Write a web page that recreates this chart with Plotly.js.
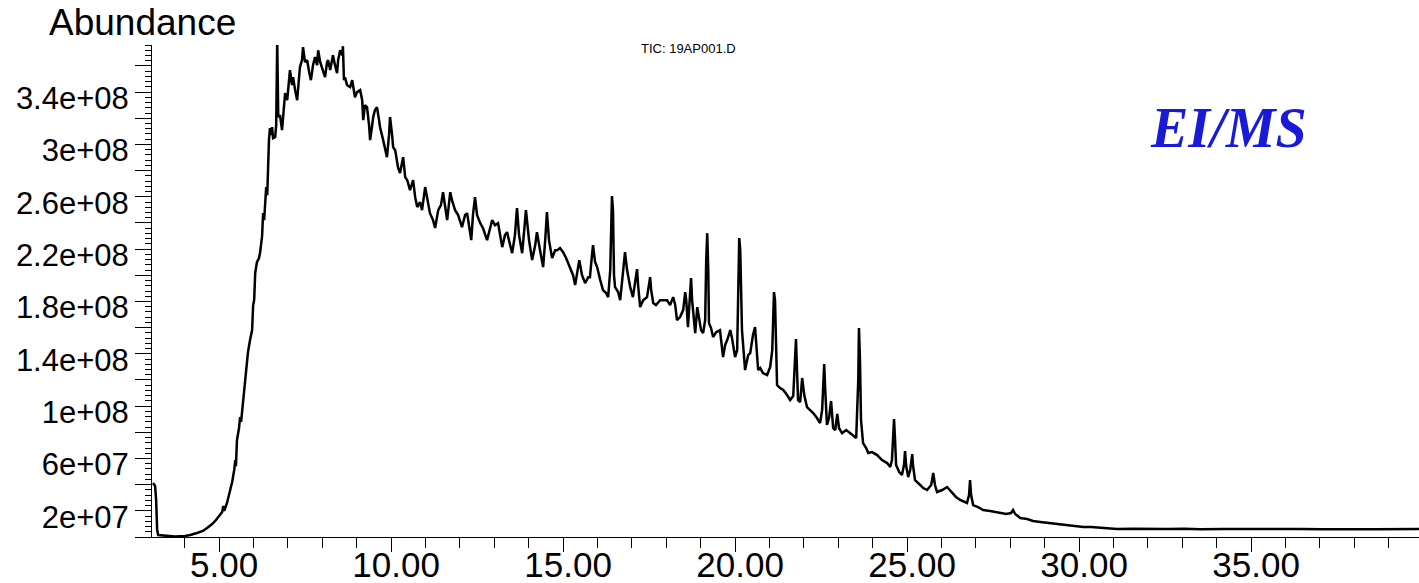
<!DOCTYPE html>
<html>
<head>
<meta charset="utf-8">
<script src="https://cdn.plot.ly/plotly-3.0.1.min.js"></script>
<style>html,body{margin:0;padding:0;background:#fff;}#chart{width:1419px;height:583px;}</style>
</head>
<body>
<div id="chart"></div>
<script>
// Retention time (min)
var retentionTime = [
3.08,3.14,3.17,3.20,3.23,3.43,3.72,4.01,4.16,4.36,4.53,4.65,4.80,4.91,5.03,5.09,5.12,5.15,5.23,5.32,
5.38,5.44,5.47,5.49,5.52,5.58,5.61,5.64,5.73,5.81,5.84,5.90,5.96,5.99,6.02,6.05,6.10,6.16,6.19,6.25,
6.28,6.31,6.37,6.40,6.42,6.45,6.48,6.51,6.54,6.57,6.63,6.66,6.69,6.72,6.77,6.83,6.89,6.92,6.98,7.01,
7.06,7.12,7.15,7.21,7.27,7.33,7.35,7.41,7.44,7.50,7.56,7.62,7.67,7.73,7.79,7.85,7.88,7.94,7.99,8.05,
8.08,8.14,8.17,8.23,8.31,8.37,8.43,8.46,8.52,8.58,8.60,8.63,8.66,8.72,8.81,8.87,8.95,9.01,9.10,9.16,
9.19,9.24,9.30,9.36,9.39,9.45,9.48,9.53,9.59,9.65,9.68,9.77,9.83,9.88,9.94,9.97,10.03,10.06,10.12,10.20,
10.26,10.35,10.41,10.47,10.55,10.64,10.70,10.76,10.84,10.90,10.99,11.08,11.13,11.22,11.28,11.37,11.45,11.51,11.57,11.63,
11.72,11.77,11.86,11.95,12.06,12.15,12.21,12.27,12.33,12.38,12.44,12.50,12.59,12.67,12.79,12.88,12.94,13.02,13.11,13.17,
13.23,13.31,13.37,13.46,13.52,13.60,13.66,13.72,13.81,13.87,13.92,14.01,14.10,14.19,14.24,14.33,14.42,14.48,14.53,14.59,
14.68,14.77,14.83,14.91,15.00,15.09,15.20,15.29,15.35,15.41,15.47,15.55,15.64,15.73,15.78,15.84,15.87,15.93,15.99,16.08,
16.16,16.25,16.31,16.37,16.42,16.45,16.48,16.51,16.60,16.66,16.72,16.80,16.86,16.95,17.03,17.09,17.15,17.18,17.24,17.33,
17.44,17.53,17.56,17.62,17.70,17.82,17.91,18.02,18.11,18.20,18.26,18.31,18.40,18.49,18.55,18.58,18.63,18.69,18.72,18.75,
18.84,18.90,18.95,19.01,19.07,19.13,19.16,19.19,19.22,19.24,19.30,19.36,19.45,19.56,19.65,19.71,19.77,19.86,19.91,20.00,
20.06,20.09,20.12,20.15,20.17,20.20,20.29,20.38,20.44,20.52,20.58,20.61,20.67,20.73,20.81,20.93,21.02,21.08,21.10,21.13,
21.16,21.19,21.22,21.31,21.40,21.51,21.60,21.69,21.74,21.77,21.80,21.83,21.89,21.95,22.01,22.09,22.18,22.27,22.38,22.47,
22.53,22.56,22.59,22.62,22.67,22.73,22.79,22.85,22.91,22.97,23.02,23.11,23.23,23.34,23.43,23.52,23.58,23.60,23.63,23.66,
23.72,23.81,23.87,23.98,24.13,24.27,24.42,24.51,24.56,24.59,24.62,24.65,24.68,24.77,24.85,24.91,24.94,24.97,25.03,25.09,
25.15,25.17,25.23,25.35,25.47,25.58,25.70,25.76,25.81,25.87,26.02,26.16,26.31,26.42,26.54,26.66,26.74,26.80,26.83,26.86,
26.92,27.06,27.21,27.41,27.56,27.70,27.88,28.02,28.08,28.14,28.29,28.49,28.66,28.87,29.16,29.45,29.65,29.88,30.12,30.35,
30.61,31.10,31.57,32.10,32.56,33.05,33.52,34.20,34.97,35.60,36.42,37.10,37.88,38.60,39.88
];
// Abundance (millions of counts)
var abundanceM = [
41.3,39.0,28.3,5.3,1.5,0.8,0.3,0.8,1.5,3.1,4.6,6.9,9.9,13.0,17.6,19.1,23.7,19.9,26.0,35.9,
42.0,51.2,58.8,54.2,74.1,83.3,91.7,87.9,112.3,135.2,141.3,150.5,158.1,177.2,181.1,201.7,210.1,213.1,217.0,229.9,
247.5,242.2,267.4,261.3,288.0,303.3,312.5,307.1,313.2,304.8,305.6,314.7,380.0,320.9,322.4,311.0,330.0,339.2,333.8,341.5,
356.8,345.3,351.4,341.5,333.8,352.9,359.1,364.4,374.3,362.9,364.4,355.2,349.1,360.6,366.7,360.6,372.0,362.9,359.1,355.2,
351.4,362.9,364.4,356.8,368.2,360.6,354.5,364.4,372.0,368.2,375.1,349.1,351.4,345.3,343.8,349.1,336.1,340.0,341.5,333.8,
318.6,330.0,328.5,314.7,303.3,314.7,320.9,326.2,328.5,318.6,313.2,303.3,295.6,290.3,307.1,320.9,307.1,297.9,295.6,282.7,
278.1,290.3,275.0,272.7,265.1,272.7,259.7,252.1,255.9,249.8,267.4,253.6,247.5,242.2,236.1,249.8,253.6,263.5,251.3,242.2,
263.5,257.4,249.8,246.0,236.8,246.0,247.5,238.3,226.9,246.0,259.7,246.0,239.9,236.1,226.9,236.1,242.2,238.3,239.9,230.7,
221.5,230.7,233.0,223.1,216.9,230.7,251.3,230.7,216.9,234.5,249.8,226.9,211.6,223.1,233.0,219.2,206.3,226.9,248.3,226.9,
213.1,219.2,219.2,220.8,217.7,213.1,206.3,200.1,192.5,204.0,211.6,200.1,194.0,198.6,198.6,215.4,223.1,210.1,206.3,196.3,
188.7,186.4,183.3,204.0,260.5,249.8,200.1,191.0,187.2,181.0,196.3,217.7,204.0,191.0,183.3,192.5,204.7,192.5,175.7,181.0,
183.3,198.6,188.7,178.8,177.2,181.0,181.0,181.0,177.2,183.3,177.2,165.8,168.1,173.4,187.2,181.0,160.4,184.9,197.8,181.0,
155.8,175.7,165.8,158.1,155.8,165.8,211.6,232.2,204.0,163.5,159.7,152.8,156.6,158.1,137.5,146.7,150.5,158.1,152.0,137.5,
142.8,188.7,228.4,219.2,181.0,158.1,127.6,139.0,140.6,154.3,160.4,146.7,127.6,129.1,125.3,123.8,129.9,142.8,173.4,187.2,
181.0,142.8,116.1,113.8,112.3,108.5,104.7,107.7,135.2,151.3,127.6,104.7,103.1,121.5,108.5,99.3,97.0,94.7,90.9,87.1,
97.0,119.9,132.2,112.3,85.6,90.9,103.9,83.3,81.7,94.0,83.3,79.4,81.7,79.4,77.2,75.6,119.9,159.7,135.2,89.4,
71.8,68.0,64.2,64.9,62.6,58.8,56.5,53.5,58.8,81.7,90.1,74.1,55.0,49.7,47.4,55.0,65.7,55.0,45.8,51.2,
63.4,55.0,43.5,40.5,37.4,35.9,39.7,48.9,39.7,34.4,35.9,38.2,33.6,30.6,28.3,26.7,26.0,32.1,43.5,32.1,
24.4,22.9,20.6,19.9,19.1,18.3,17.6,18.3,20.6,17.6,14.5,13.7,12.2,11.5,10.7,9.9,9.2,8.4,7.6,7.6,
6.9,6.1,6.3,5.9,6.1,6.4,5.9,6.1,6.3,5.9,6.2,6.0,6.3,6.0,6.1
];
var yTickVals = [0,2e7,4e7,6e7,8e7,1e8,1.2e8,1.4e8,1.6e8,1.8e8,2e8,2.2e8,2.4e8,2.6e8,2.8e8,3e8,3.2e8,3.4e8,3.6e8];
var yTickText = ["","2e+07","","6e+07","","1e+08","","1.4e+08","","1.8e+08","","2.2e+08","","2.6e+08","","3e+08","","3.4e+08",""];
var yAxisLabel = "Abundance";
var traceLabel = "TIC: 19AP001.D";
var methodLabel = "EI/MS";

var abundance = abundanceM.map(function(v){ return v * 1e6; });
var FONT = "Liberation Sans, Arial, sans-serif";

var trace = {
  x: retentionTime, y: abundance, type: "scatter", mode: "lines",
  line: {color: "#000000", width: 2.5}, hoverinfo: "x+y"
};

var layout = {
  width: 1419, height: 583,
  margin: {l: 152, r: 0, t: 45, b: 46, pad: 0},
  paper_bgcolor: "#ffffff", plot_bgcolor: "#ffffff",
  showlegend: false,
  font: {family: FONT, color: "#000"},
  xaxis: {
    range: [3.05, 39.88], tick0: 5, dtick: 5, tickformat: ".2f",
    ticks: "outside", ticklen: 14, tickwidth: 1, tickcolor: "#000",
    minor: {dtick: 1, tick0: 0, ticks: "outside", ticklen: 10, tickwidth: 1, tickcolor: "#000"},
    showline: true, linecolor: "#000", linewidth: 1,
    showgrid: false, zeroline: false,
    ticklabelstandoff: -17, ticklabelshift: 5,
    tickfont: {family: FONT, size: 35, color: "#000"}
  },
  yaxis: {
    range: [0, 3.76e8], tickmode: "array", tickvals: yTickVals, ticktext: yTickText,
    ticks: "outside", ticklen: 16, tickwidth: 1, tickcolor: "#000",
    minor: {dtick: 4e6, tick0: 0, ticks: "outside", ticklen: 6, tickwidth: 1, tickcolor: "#000"},
    showline: true, linecolor: "#000", linewidth: 1,
    showgrid: false, zeroline: false,
    ticklabelshift: 6,
    tickfont: {family: FONT, size: 31, color: "#000"}
  },
  annotations: [
    {text: yAxisLabel, xref: "paper", yref: "paper", x: -0.083, y: 1.0, xanchor: "left", yanchor: "bottom",
     showarrow: false, font: {family: FONT, size: 37, color: "#000"}},
    {text: traceLabel, xref: "paper", yref: "paper", x: 0.4238, y: 0.992, xanchor: "center", yanchor: "middle",
     showarrow: false, font: {family: FONT, size: 13, color: "#000"}},
    {text: "<b><i>" + methodLabel + "</i></b>", xref: "paper", yref: "paper", x: 0.850, y: 0.831, xanchor: "center", yanchor: "middle",
     showarrow: false, font: {family: "Liberation Serif, Times New Roman, serif", size: 56, color: "#1a1ad6"}}
  ]
};

Plotly.newPlot("chart", [trace], layout, {displayModeBar: false, staticPlot: true});
</script>
</body>
</html>
